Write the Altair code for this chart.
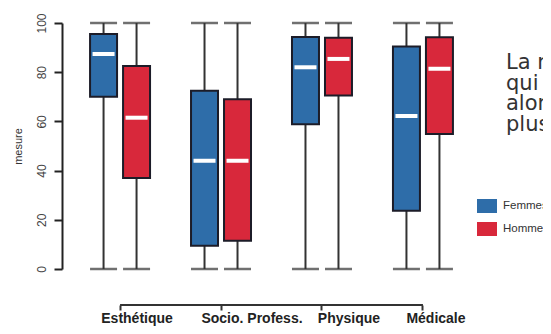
import altair as alt
import pandas as pd

categories = ["Esthétique", "Socio. Profess.", "Physique", "Médicale"]
groups = ["Femmes", "Hommes"]
colors = ["#2E6DA9", "#D8283B"]

# per category: [Femmes, Hommes]
mins = [[0, 0], [0, 0], [0, 0], [0, 0]]
q1s = [[70, 37], [9.5, 11.5], [58.8, 70.5], [23.7, 54.9]]
medians = [[87.4, 61.5], [44, 44], [82, 85.4], [62.2, 81.4]]
q3s = [[95.5, 82.5], [72.5, 69], [94.3, 94], [90.4, 94.2]]
maxs = [[100, 100], [100, 100], [100, 100], [100, 100]]

y_ticks = [0, 20, 40, 60, 80, 100]
label_shift = [17, 31, 27, 13]
side_text = ["La  r", "qui e", "alors", "plus"]

rows = []
for i, c in enumerate(categories):
    for j, g in enumerate(groups):
        rows.append(dict(cat=c, grp=g, lo=mins[i][j], q1=q1s[i][j],
                         med=medians[i][j], q3=q3s[i][j], hi=maxs[i][j]))
df = pd.DataFrame(rows)

W, H = 419, 246
AX_OFF = 36

xenc = alt.X("cat:N", sort=categories,
             scale=alt.Scale(domain=categories, paddingInner=0, paddingOuter=0.075),
             axis=alt.Axis(title=None, orient="bottom", offset=AX_OFF, domain=False,
                           tickSize=5, tickWidth=2, tickColor="#333",
                           labelAngle=0, labelFontSize=14, labelFontWeight="bold",
                           labelColor="#222", labelPadding=1,
                           labelOffset={"condition": [
                               {"test": f"datum.value == '{categories[k]}'", "value": label_shift[k]}
                               for k in range(1, 4)], "value": label_shift[0]}))
xoff = alt.XOffset("grp:N", sort=groups,
                   scale=alt.Scale(domain=groups, paddingInner=0.182, paddingOuter=0.621))
yscale = alt.Scale(domain=[0, 100], nice=False, zero=False)

base = alt.Chart(df)

whisker = base.mark_rule(color="#333", strokeWidth=2).encode(
    x=xenc, xOffset=xoff,
    y=alt.Y("lo:Q", scale=yscale,
            axis=alt.Axis(values=y_ticks, title="mesure", grid=False,
                          tickSize=8, tickWidth=2, tickColor="#222",
                          domainWidth=2, domainColor="#222",
                          labelAngle=270, labelFontSize=12, labelColor="#444",
                          labelPadding=6, titleFontSize=11, titleFontWeight="normal",
                          titleColor="#333", titlePadding=12)),
    y2="hi:Q")

caps_lo = base.mark_tick(color="#333", thickness=2.5, size=27).encode(
    x=xenc, xOffset=xoff, y=alt.Y("lo:Q", scale=yscale))
caps_hi = base.mark_tick(color="#333", thickness=2.5, size=27).encode(
    x=xenc, xOffset=xoff, y=alt.Y("hi:Q", scale=yscale))

box = base.mark_bar(stroke="#1c1c28", strokeWidth=2).encode(
    x=xenc, xOffset=xoff,
    y=alt.Y("q1:Q", scale=yscale), y2="q3:Q",
    color=alt.Color("grp:N", sort=groups,
                    scale=alt.Scale(domain=groups, range=colors),
                    legend=alt.Legend(orient="none", legendX=415, legendY=173,
                                      title=None, padding=0,
                                      symbolType="M-1,-0.7H1V0.7H-1Z",
                                      symbolSize=400, symbolStrokeWidth=0,
                                      symbolOpacity=1,
                                      labelFontSize=11.5, labelColor="#333",
                                      labelOffset=6, rowPadding=6)))

median = base.mark_tick(color="white", thickness=4, size=22, opacity=1).encode(
    x=xenc, xOffset=xoff, y=alt.Y("med:Q", scale=yscale))

bracket_df = pd.DataFrame({"cat": categories})
bracket = alt.Chart(bracket_df).mark_line(color="#333", strokeWidth=2).encode(
    x=alt.X("cat:N", sort=categories), y=alt.value(H + AX_OFF))

text_df = pd.DataFrame([{"t": "\n".join(side_text)}])
side = alt.Chart(text_df).mark_text(
    align="left", baseline="alphabetic", fontSize=21, lineHeight=20.5,
    font="DejaVu Sans", color="#333", lineBreak="\n").encode(
    text="t:N", x=alt.value(444), y=alt.value(46))

chart = alt.layer(whisker, caps_lo, caps_hi, box, median, bracket, side).properties(
    width=W, height=H,
    autosize=alt.AutoSizeParams(type="none"),
    padding={"left": 54, "top": 15, "right": 62, "bottom": 57},
).configure(font="Liberation Sans").configure_view(stroke=None)

chart.save("out.html", embed_options={"renderer": "svg", "actions": False})
